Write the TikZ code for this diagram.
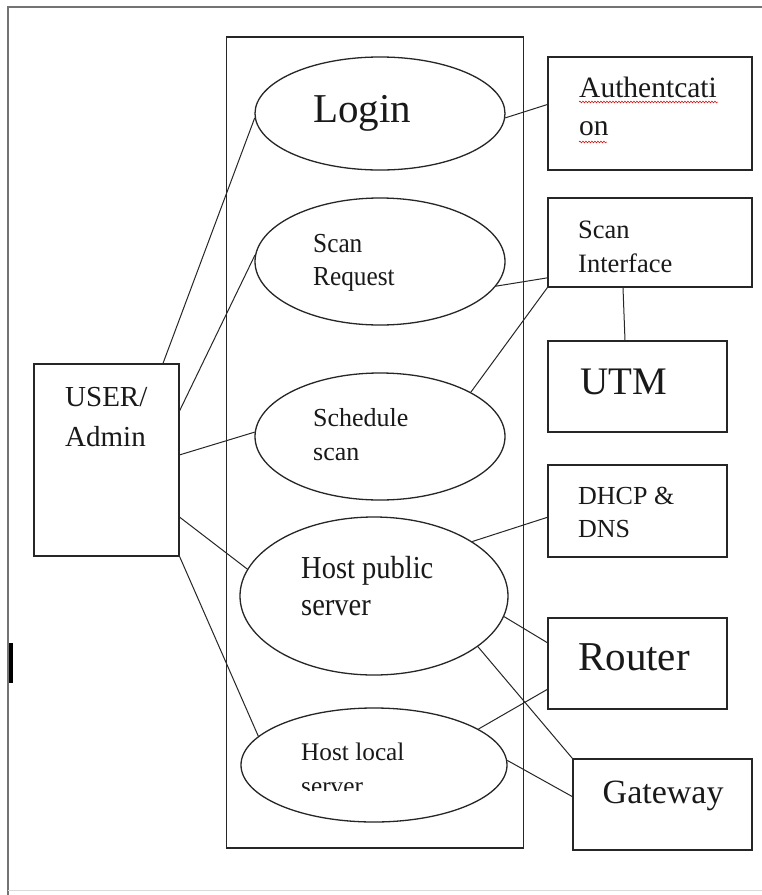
\documentclass[tikz,border=0pt]{standalone}
\usepackage{fontspec}
\setmainfont{Liberation Serif}
\newfontfamily\stretchA[FakeStretch=0.89]{Liberation Serif}
\newfontfamily\stretchB[FakeStretch=0.92]{Liberation Serif}
\usetikzlibrary{shapes.geometric,decorations.pathmorphing}
\begin{document}
\begin{tikzpicture}[x=1pt,y=-1pt,
  shapeline/.style={draw=black!85, line width=1.3pt},
  usecase/.style={ellipse, shapeline, inner sep=0pt},
  boxnode/.style={rectangle, shapeline, inner sep=0pt},
  link/.style={draw=black!85, line width=1pt},
  txt/.style={anchor=base west, inner sep=0pt, text=black!90},
  spell/.style={draw=red!80!black, line width=0.5pt, decorate,
    decoration={snake, amplitude=0.9pt, segment length=3pt}}]
\useasboundingbox (0,0) rectangle (762,895);
\fill[white] (0,0) rectangle (762,895);
% outer frame
\draw[black!55, line width=2.2pt] (8,895) -- (8,7) -- (762,7);
\draw[black!15, line width=1pt] (8,890) -- (762,890);
\fill[black] (9,643) rectangle (12.5,683);
% system boundary
\node[boxnode, minimum width=297pt, minimum height=811pt] (sys) at (374.85,442.35) {};
% use cases
\node[usecase, minimum width=250pt, minimum height=113pt] (login) at (380,113.5) {};
\node[usecase, minimum width=250pt, minimum height=127pt] (sreq) at (380,261.5) {};
\node[usecase, minimum width=250pt, minimum height=127pt] (sched) at (380,436.5) {};
\node[usecase, minimum width=268pt, minimum height=158pt] (hpub) at (374,596) {};
\node[usecase, minimum width=266pt, minimum height=114pt] (hloc) at (374,765) {};
% boxes
\node[boxnode, minimum width=145pt, minimum height=192pt] (user) at (106.5,460) {};
\node[boxnode, minimum width=204pt, minimum height=113pt] (auth) at (650,113.5) {};
\node[boxnode, minimum width=204pt, minimum height=89pt] (sif) at (650,242.5) {};
\node[boxnode, minimum width=179pt, minimum height=91pt] (utm) at (637.5,386.5) {};
\node[boxnode, minimum width=179pt, minimum height=92pt] (dhcp) at (637.5,511) {};
\node[boxnode, minimum width=179pt, minimum height=91pt] (router) at (637.5,663.5) {};
\node[boxnode, minimum width=179pt, minimum height=91pt] (gw) at (662.5,804.5) {};
% texts
\node[txt, font=\fontsize{41}{41}\selectfont] (tlogin) at (313,122) {Login};
\node[txt, font=\fontsize{29.5}{29.5}\selectfont] (tauth1) at (579,97) {Authentcati};
\node[txt, font=\fontsize{29.5}{29.5}\selectfont] (tauth2) at (579,135) {on};
\draw[spell] (579,102) -- (718,102);
\draw[spell] (579,142) -- (607,142);
\node[txt, font=\stretchB\fontsize{27.5}{27.5}\selectfont] (tsreq1) at (313,252) {Scan};
\node[txt, font=\stretchB\fontsize{27.5}{27.5}\selectfont] (tsreq2) at (313,285) {Request};
\node[txt, font=\fontsize{26.5}{26.5}\selectfont] (tsif1) at (578,238) {Scan};
\node[txt, font=\fontsize{26.5}{26.5}\selectfont] (tsif2) at (578,272) {Interface};
\node[txt, font=\fontsize{29}{29}\selectfont] (tuser1) at (65,406) {USER/};
\node[txt, font=\fontsize{29}{29}\selectfont] (tuser2) at (65,446) {Admin};
\node[txt, font=\fontsize{39}{39}\selectfont] (tutm) at (580.5,394) {UTM};
\node[txt, font=\fontsize{26}{26}\selectfont] (tsched1) at (313,426) {Schedule};
\node[txt, font=\fontsize{26}{26}\selectfont] (tsched2) at (313,460) {scan};
\node[txt, font=\fontsize{26}{26}\selectfont] (tdhcp1) at (578,504) {DHCP \&};
\node[txt, font=\fontsize{26}{26}\selectfont] (tdhcp2) at (578,537) {DNS};
\node[txt, font=\stretchA\fontsize{32}{32}\selectfont] (thpub1) at (301,578) {Host public};
\node[txt, font=\stretchA\fontsize{32}{32}\selectfont] (thpub2) at (301,615) {server};
\node[txt, font=\fontsize{41}{41}\selectfont] (trouter) at (578,670) {Router};
\node[txt, font=\fontsize{25.3}{25.3}\selectfont] (thloc1) at (301,760) {Host local};
\begin{scope}
  \clip (290,770) rectangle (420,790.5);
  \node[txt, font=\fontsize{25.3}{25.3}\selectfont] (thloc2) at (301,794) {server};
\end{scope}
\node[txt, font=\fontsize{34}{34}\selectfont] (tgw) at (602.5,803) {Gateway};
% connectors
\draw[link] ([xshift=56.5pt]user.north) -- (login.182);
\draw[link] (user.34.6) -- (sreq.177);
\draw[link] (user.4.7) -- (sched.178.4);
\draw[link] (user.-38.7) -- (hpub.168);
\draw[link] (user.south east) -- (hloc.166);
\draw[link] (login.-2) -- (auth.175);
\draw[link] (sreq.-12) -- (sif.199);
\draw[link] (sched.26) -- (sif.south west);
\draw[link] ([xshift=-27pt]sif.south) -- ([xshift=-12.5pt]utm.north);
\draw[link] (hpub.29) -- (dhcp.184);
\draw[link] (hpub.-9.5) -- (router.167);
\draw[link] (hpub.-26.8) -- (gw.north west);
\draw[link] (hloc.19) -- (router.196.5);
\draw[link] (hloc.2) -- (gw.175);
\end{tikzpicture}
\end{document}
